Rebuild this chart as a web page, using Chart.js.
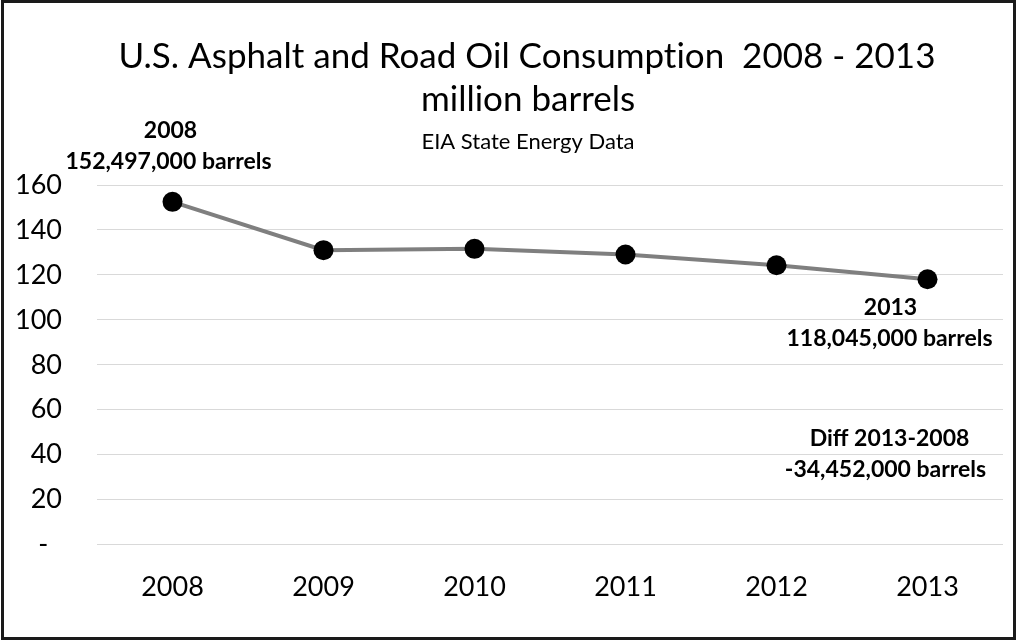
<!DOCTYPE html>
<html>
<head>
<meta charset="utf-8">
<script src="https://cdn.jsdelivr.net/npm/chart.js@4.4.1/dist/chart.umd.min.js"></script>
<style>
  html, body { margin: 0; padding: 0; background: #fff; }
  canvas { display: block; }
</style>
</head>
<body>
<canvas id="asphaltChart" width="1018" height="642"></canvas>
<script>
// values, million barrels
const years = ['2008', '2009', '2010', '2011', '2012', '2013'];
const consumption = [152.497, 131.0, 131.6, 129.1, 124.3, 118.045];
const yTicks = [0, 20, 40, 60, 80, 100, 120, 140, 160];
const titleLines = ['U.S. Asphalt and Road Oil Consumption  2008 - 2013', 'million barrels'];
const subtitleText = 'EIA State Energy Data';

const fmtBarrels = v => Math.round(v * 1e6).toLocaleString('en-US') + ' barrels';

// title is drawn by hand: the excel original centres it off the canvas middle
const heading = {
    id: 'heading',
    afterDraw(chart) {
        const ctx = chart.ctx;
        ctx.save();
        ctx.fillStyle = '#000';
        ctx.textAlign = 'center';
        ctx.textBaseline = 'alphabetic';
        ctx.textRendering = 'optimizeSpeed'; // no "ti" ligature
        ctx.font = '35px Lato';
        ctx.fillText(titleLines[0], 527, 68);
        ctx.fillText(titleLines[1], 528, 111);
        ctx.font = '22px Lato';
        ctx.fillText(subtitleText, 528, 149);
        ctx.restore();
    }
};

const frame = {
    id: 'frame',
    afterDraw(chart) {
        const ctx = chart.ctx;
        ctx.save();
        ctx.strokeStyle = '#1a1a1a';
        ctx.lineWidth = 3;
        ctx.strokeRect(2.5, 1.5, 1012, 637);
        ctx.restore();
    }
};

const notes = {
    id: 'notes',
    afterDatasetsDraw(chart) {
        const ctx = chart.ctx;
        const pts = chart.getDatasetMeta(0).data;
        const first = pts[0], last = pts[pts.length - 1];
        const y = chart.scales.y;
        const diff = consumption[consumption.length - 1] - consumption[0];
        ctx.save();
        ctx.fillStyle = '#000';
        ctx.font = 'bold 23px Lato';
        ctx.textAlign = 'center';
        ctx.textBaseline = 'middle';
        ctx.fillText(years[0], first.x - 2, first.y - 71);
        ctx.fillText(fmtBarrels(consumption[0]), first.x - 4, first.y - 40);
        ctx.fillText(years[years.length - 1], last.x - 37, last.y + 28);
        ctx.fillText(fmtBarrels(consumption[consumption.length - 1]), last.x - 38, last.y + 59);
        ctx.fillText('Diff ' + years[years.length - 1] + '-' + years[0], last.x - 38, y.getPixelForValue(47));
        ctx.fillText(fmtBarrels(diff), last.x - 42, y.getPixelForValue(33.5));
        ctx.restore();
    }
};

new Chart(document.getElementById('asphaltChart'), {
    type: 'line',
    data: {
        labels: years,
        datasets: [{
            data: consumption,
            borderColor: '#7f7f7f',
            borderWidth: 4,
            pointRadius: 10,
            pointBackgroundColor: '#000',
            pointBorderColor: '#000',
            pointBorderWidth: 0,
            tension: 0
        }]
    },
    options: {
        responsive: false,
        animation: false,
        devicePixelRatio: 1,
        layout: { padding: { left: 14, right: 15, top: 185, bottom: 21 } },
        plugins: {
            legend: { display: false },
            tooltip: { enabled: false },
            title: { display: false }
        },
        scales: {
            x: {
                offset: true,
                grid: { display: false },
                border: { display: false },
                ticks: { color: '#000', font: { family: 'Lato', size: 27 }, padding: 18 }
            },
            y: {
                min: 0,
                max: 160,
                afterFit(scale) { scale.width = 83; },
                afterBuildTicks(scale) { scale.ticks = yTicks.map(v => ({ value: v })); },
                grid: { color: '#d9d9d9', lineWidth: 1, drawTicks: false },
                border: { display: false },
                ticks: {
                    color: '#000',
                    font: { family: 'Lato', size: 27 },
                    padding: 35,
                    callback: v => v === 0 ? '-  ' : v
                }
            }
        }
    },
    plugins: [heading, frame, notes]
});
</script>
</body>
</html>
